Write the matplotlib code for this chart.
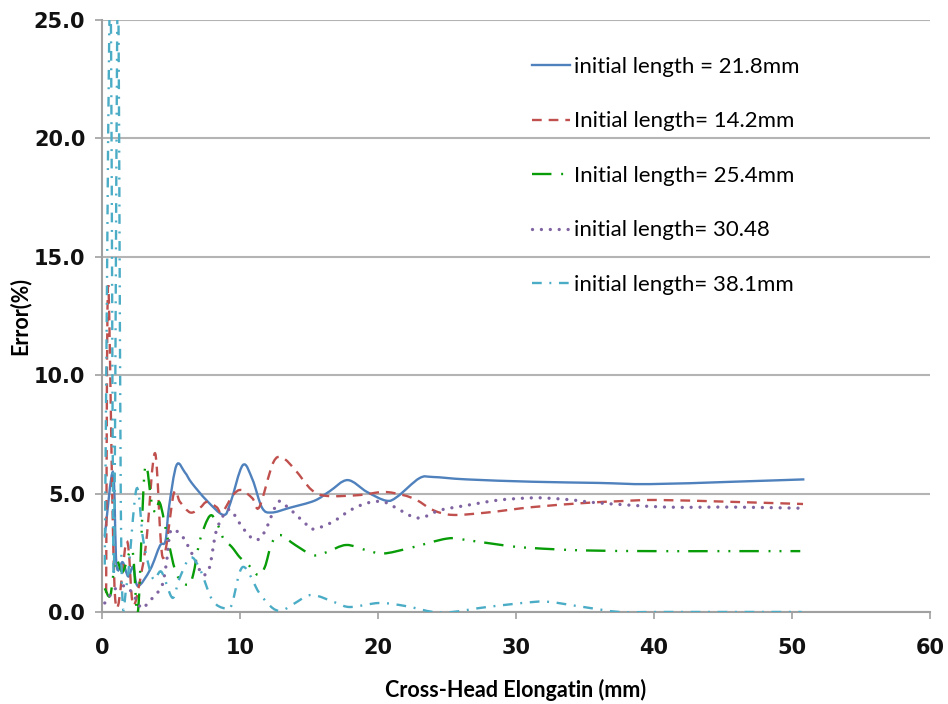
import matplotlib
matplotlib.use("Agg")
import matplotlib.pyplot as plt
import numpy as np
from matplotlib.path import Path
from matplotlib.patches import PathPatch
from matplotlib.lines import Line2D

plt.rcParams['lines.scale_dashes'] = False

# series (x = cross-head elongation mm, y = error %)
blue_x = [0.2, 0.8, 1.05, 1.5, 1.9, 2.25, 2.6, 3.5, 4.2, 4.6, 4.85, 5.4, 6.0, 6.5, 7.6, 8.8, 9.3, 10.2, 10.9,
          11.6, 12.3, 13.6, 15.4, 16.5, 17.8, 19.2, 20.6, 21.4, 23.0, 24.0, 26.4, 31.2, 36.0, 39.7, 45.7, 50.9]
blue_y = [3.2, 5.9, 2.0, 2.1, 1.5, 1.9, 1.1, 1.8, 2.8, 3.0, 4.4, 6.2, 5.9, 5.45, 4.7, 4.1, 4.6, 6.2, 5.6,
          4.4, 4.2, 4.4, 4.7, 5.1, 5.57, 5.07, 4.7, 4.87, 5.65, 5.7, 5.6, 5.5, 5.45, 5.4, 5.5, 5.6]

red_x = [0.3, 0.45, 0.95, 1.8, 2.25, 2.9, 3.25, 3.85, 4.4, 5.2, 5.65, 6.4, 7.1, 7.6, 8.3, 8.7, 9.5, 10.1, 10.9,
         11.4, 12.4, 13.1, 14.0, 15.2, 16.3, 18.7, 20.4, 21.8, 22.8, 24.0, 25.4, 27.9, 31.2, 34.9, 37.5, 40.2,
         45.7, 50.8]
red_y = [0.8, 13.8, 0.6, 3.0, 0.3, 1.8, 3.2, 6.7, 2.3, 5.0, 4.65, 4.2, 4.4, 4.65, 4.43, 4.2, 4.94, 5.15, 4.8,
         4.43, 6.3, 6.5, 6.0, 5.15, 4.9, 4.94, 5.07, 4.94, 4.73, 4.3, 4.1, 4.2, 4.43, 4.6, 4.68, 4.73,
         4.65, 4.56]

green_x = [0.2, 0.6, 1.0, 1.5, 2.2, 2.6, 3.1, 3.6, 3.9, 4.2, 4.8, 5.4, 6.2, 6.6, 7.1, 7.8, 8.3, 8.8, 9.4, 10.0,
           10.5, 11.3, 11.8, 12.3, 12.9, 14.0, 15.3, 16.3, 17.7, 19.2, 20.4, 22.3, 25.0, 26.4, 29.3, 31.2,
           34.9, 40.0, 45.0, 50.6]
green_y = [1.0, 0.7, 2.2, 1.7, 2.6, 0.0, 6.0, 4.6, 4.2, 4.6, 3.0, 1.6, 1.14, 1.56, 3.04, 4.05, 3.8, 3.1, 2.75, 2.3,
           2.07, 1.56, 1.9, 2.9, 3.25, 2.83, 2.4, 2.53, 2.83, 2.6, 2.47, 2.7, 3.1, 3.04, 2.8, 2.7,
           2.6, 2.57, 2.57, 2.57]

purple_x = [0.2, 1.0, 1.8, 2.5, 2.9, 3.5, 4.0, 4.4, 4.7, 5.0, 5.8, 6.4, 6.9, 7.3, 7.8, 8.3, 9.1, 9.6, 10.2, 11.1,
            11.8, 12.7, 13.3, 14.7, 15.3, 16.7, 18.0, 19.2, 20.4, 21.6, 22.6, 23.3, 24.5, 26.4, 28.8, 31.2,
            32.5, 34.1, 36.1, 40.9, 45.7, 50.9]
purple_y = [0.38, 1.0, 1.06, 0.5, 0.15, 0.5, 0.8, 1.2, 2.2, 3.45, 3.2, 2.6, 2.0, 1.56, 1.9, 3.46, 4.3, 4.1, 3.55, 3.04,
            3.4, 4.6, 4.5, 3.76, 3.5, 3.8, 4.3, 4.6, 4.65, 4.3, 4.0, 4.0, 4.3, 4.5, 4.73, 4.82,
            4.8, 4.73, 4.6, 4.43, 4.43, 4.38]

cyan_x = [0.2, 0.6, 0.85, 1.15, 1.4, 1.8, 2.5, 3.0, 3.7, 4.3, 5.1, 5.6, 6.4, 7.1, 8.0, 8.9, 9.4, 10.2, 11.4,
          12.4, 13.1, 14.0, 15.2, 17.0, 18.0, 20.1, 22.0, 24.0, 25.4, 27.9, 31.2, 32.5, 34.9, 37.5, 40.0,
          45.0, 50.7]
cyan_y = [2.0, 26.5, 1.5, 26.5, 2.5, 1.2, 5.2, 3.0, 1.4, 1.7, 0.6, 1.4, 2.3, 1.8, 0.5, 0.15, 0.3, 1.9, 0.8,
          0.15, 0.08, 0.38, 0.72, 0.38, 0.21, 0.38, 0.25, 0.0, 0.0, 0.21, 0.42, 0.42, 0.21, 0.0, 0.0,
          0.0, 0.0]

labels = ["initial length = 21.8mm", "Initial length= 14.2mm", "Initial length= 25.4mm",
          "initial length= 30.48", "initial length= 38.1mm"]
colors = ["#4F81BD", "#C0504D", "#089C08", "#8064A2", "#4BACC6"]
styles = ["-", (0, (7, 5)), (0, (14, 7, 1.4, 6.5, 1.4, 6.5)), (0, (0.01, 6.4)), (0, (7, 5.5, 1.4, 5.5))]
widths = [1.7, 1.7, 1.7, 2.4, 1.7]


def smooth_path(xs, ys):
    # Excel-like smoothed line as cubic bezier segments through the data points
    p = np.column_stack([xs, ys]).astype(float)
    ext = np.vstack([p[0], p, p[-1]])
    verts = [p[0]]
    codes = [Path.MOVETO]
    for i in range(len(p) - 1):
        p0, p1, p2, p3 = ext[i], ext[i + 1], ext[i + 2], ext[i + 3]
        verts += [p1 + (p2 - p0) / 6, p2 - (p3 - p1) / 6, p2]
        codes += [Path.CURVE4] * 3
    return Path(verts, codes)


fig = plt.figure(figsize=(9.48, 7.04), dpi=100)
ax = fig.add_axes([0.1076, 0.1307, 0.981 - 0.1076, 0.9716 - 0.1307])

series = [(blue_x, blue_y), (red_x, red_y), (green_x, green_y), (purple_x, purple_y), (cyan_x, cyan_y)]
handles = []
for (xs, ys), c, ls, lw, lab in zip(series, colors, styles, widths, labels):
    cap = "round" if lw > 2 else "butt"
    patch = PathPatch(smooth_path(xs, ys), fill=False, edgecolor=c, linewidth=lw,
                      linestyle=ls, capstyle=cap, zorder=3)
    ax.add_patch(patch)
    handles.append(Line2D([], [], color=c, lw=lw, linestyle=ls, dash_capstyle=cap))

ax.set_xlim(0, 60)
ax.set_ylim(0, 25)
ax.set_xticks(range(0, 61, 10))
ax.set_yticks(np.arange(0, 25.1, 5))
ax.set_yticklabels([f"{v:.1f}" for v in np.arange(0, 25.1, 5)])
ax.yaxis.grid(True, color="#B4B4B4", lw=1.5)
ax.set_axisbelow(True)
for s in ["top", "right"]:
    ax.spines[s].set_visible(False)
for s in ["left", "bottom"]:
    ax.spines[s].set_color("#A0A0A0")
    ax.spines[s].set_linewidth(1.5)
ax.tick_params(axis="both", colors="#A0A0A0", width=1.2, length=5, labelcolor="#111111")
ax.tick_params(axis="x", pad=14)
ax.tick_params(axis="y", pad=7)
for t in ax.get_xticklabels() + ax.get_yticklabels():
    t.set_fontweight("bold")
    t.set_fontsize(15)
    t.set_family("DejaVu Sans")

ax.set_xlabel("Cross-Head Elongatin (mm)", family="Lato", fontweight="bold", fontsize=15.5, labelpad=15)
ax.set_ylabel("Error(%)", family="Lato", fontweight="bold", fontsize=15.5, labelpad=2)

ax.legend(handles, labels, loc="upper left", bbox_to_anchor=(0.519, 0.9375), frameon=False,
          prop={"family": "Lato", "size": 16}, handlelength=1.7, handletextpad=0.2,
          labelspacing=1.55, borderpad=0, borderaxespad=0)

fig.savefig("out.png", dpi=100)
